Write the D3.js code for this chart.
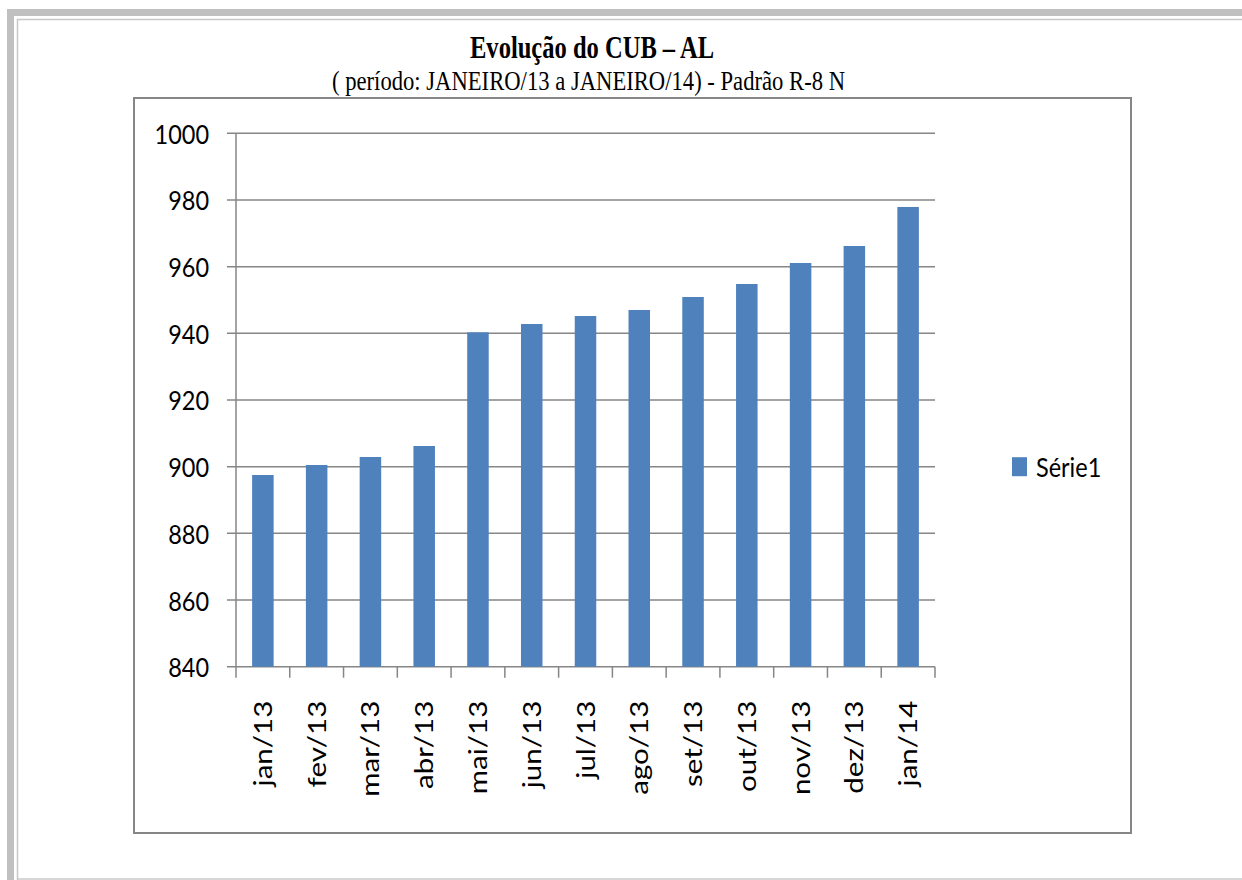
<!DOCTYPE html>
<html>
<head>
<meta charset="utf-8">
<script src="https://cdn.jsdelivr.net/npm/d3@7"></script>
<style>
  body { margin: 0; background: #fff; }
  svg { display: block; }
</style>
</head>
<body>
<svg id="chart" width="1242" height="880"></svg>
<script>
// data
var months = ["jan/13", "fev/13", "mar/13", "abr/13", "mai/13", "jun/13", "jul/13",
              "ago/13", "set/13", "out/13", "nov/13", "dez/13", "jan/14"];
var serie1 = [897.5, 900.5, 902.9, 906.2, 940.3, 942.8, 945.2, 947.0, 950.9, 954.8, 961.1, 966.2, 977.9];
var yTicks = [840, 860, 880, 900, 920, 940, 960, 980, 1000];
var seriesName = "Série1";
var titleText = "Evolução do CUB – AL";
var subtitleText = "( período: JANEIRO/13 a JANEIRO/14) - Padrão R-8 N";

var svg = d3.select("#chart");
var grey = "#868686";
var sans = "Lato, 'Open Sans', sans-serif";

// page frame
svg.append("rect").attr("x", 7).attr("y", 9).attr("width", 1235).attr("height", 7).attr("fill", "#c0c0c0");
svg.append("rect").attr("x", 7).attr("y", 9).attr("width", 7).attr("height", 871).attr("fill", "#c0c0c0");
svg.append("path")
    .attr("d", "M1242,19.5H17.5V880")
    .attr("fill", "none").attr("stroke", "#c8c8c8").attr("stroke-width", 1.5);
svg.append("line").attr("x1", 17).attr("x2", 1242).attr("y1", 879).attr("y2", 879)
    .attr("stroke", "#c8c8c8").attr("stroke-width", 1.5);

// titles
svg.append("text")
    .attr("x", 470).attr("y", 58)
    .attr("textLength", 244).attr("lengthAdjust", "spacingAndGlyphs")
    .attr("font-family", "'Liberation Serif', 'Times New Roman', serif")
    .attr("font-weight", "bold").attr("font-size", 31)
    .text(titleText);
svg.append("text")
    .attr("x", 332).attr("y", 90)
    .attr("textLength", 513).attr("lengthAdjust", "spacingAndGlyphs")
    .attr("font-family", "'Liberation Serif', 'Times New Roman', serif")
    .attr("font-size", 27)
    .text(subtitleText);

// chart box
svg.append("rect")
    .attr("x", 134).attr("y", 98).attr("width", 997).attr("height", 735)
    .attr("fill", "#fff").attr("stroke", grey).attr("stroke-width", 2);

var margin = {top: 133.3, left: 236};
var width = 935 - 236;
var height = 666.7 - 133.3;

var g = svg.append("g")
    .attr("transform", "translate(" + margin.left + "," + margin.top + ")");

var x = d3.scaleBand().domain(months).range([0, width]).paddingInner(0.6).paddingOuter(0.3);
var y = d3.scaleLinear().domain([840, 1000]).range([height, 0]);

// gridlines (with the little outer tick on the left)
g.selectAll(".grid")
    .data(yTicks)
  .enter().append("line")
    .attr("class", "grid")
    .attr("x1", -9).attr("x2", width)
    .attr("y1", function(d){ return y(d); })
    .attr("y2", function(d){ return y(d); })
    .attr("stroke", grey).attr("stroke-width", 1.5);

// bars
g.selectAll(".bar")
    .data(serie1)
  .enter().append("rect")
    .attr("class", "bar")
    .attr("x", function(d, i){ return x(months[i]); })
    .attr("width", x.bandwidth())
    .attr("y", function(d){ return y(d); })
    .attr("height", function(d){ return height - y(d); })
    .attr("fill", "#4f81bd");

// vertical axis line and category ticks
g.append("line")
    .attr("x1", 0).attr("x2", 0).attr("y1", 0).attr("y2", height + 11)
    .attr("stroke", grey).attr("stroke-width", 1.5);
g.selectAll(".ctick")
    .data(months)
  .enter().append("line")
    .attr("class", "ctick")
    .attr("x1", function(d){ return x(d) - x.step() * x.paddingOuter() + x.step(); })
    .attr("x2", function(d){ return x(d) - x.step() * x.paddingOuter() + x.step(); })
    .attr("y1", height).attr("y2", height + 11)
    .attr("stroke", grey).attr("stroke-width", 1.5);

// y labels
var yAxis = g.append("g")
    .call(d3.axisLeft(y).tickValues(yTicks).tickFormat(d3.format("d")).tickSize(0).tickPadding(27));
yAxis.select(".domain").remove();
yAxis.selectAll("text")
    .attr("font-family", sans).attr("font-size", 23.5).attr("fill", "#000")
    .attr("dy", "0.36em")
    .attr("transform", "scale(1,1.18)");

// x labels
var xAxis = g.append("g")
    .attr("transform", "translate(0," + height + ")")
    .call(d3.axisBottom(x).tickSize(0).tickPadding(0));
xAxis.select(".domain").remove();
xAxis.selectAll("text")
    .attr("font-family", sans).attr("font-size", 25).attr("fill", "#000")
    .attr("text-anchor", "end")
    .attr("x", 0).attr("y", 0).attr("dy", "0.36em")
    .attr("transform", "translate(0,34) scale(1,1.18) rotate(-90)");

// legend
var legend = svg.append("g").attr("transform", "translate(1012,466.7)");
legend.append("rect")
    .attr("x", 0).attr("y", -9.5).attr("width", 15).attr("height", 19)
    .attr("fill", "#4f81bd");
legend.append("text")
    .attr("x", 24).attr("y", 0).attr("dy", "0.36em")
    .attr("font-family", sans).attr("font-size", 23.5)
    .attr("transform", "scale(1,1.18)")
    .text(seriesName);
</script>
</body>
</html>
